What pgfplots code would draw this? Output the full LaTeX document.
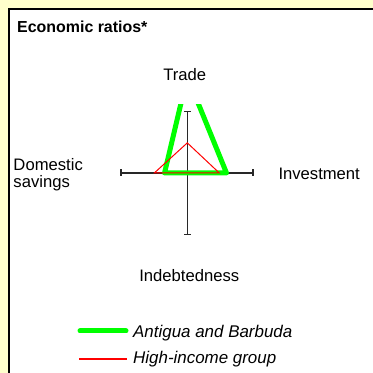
\documentclass[border=0pt]{standalone}
\usepackage{pgfplots}
\pgfplotsset{compat=1.18}
\usepackage{fontspec}
\setmainfont{Liberation Sans}
\definecolor{bgyellow}{RGB}{255,255,204}
\definecolor{axgray}{RGB}{40,40,40}
\definecolor{lime}{RGB}{0,255,0}
\definecolor{pred}{RGB}{255,0,0}
\begin{document}
\begin{tikzpicture}[x=1bp,y=1bp]
\useasboundingbox (0,0) rectangle (373,373);
\fill[bgyellow] (0,0) rectangle (373,373);
\fill[white] (9,0) rectangle (373,364);
\draw[black, line width=2bp] (9,0) -- (9,364) -- (373,364);
\node[anchor=base west, font=\bfseries\fontsize{16}{18}\selectfont, inner sep=0pt] at (17,341) {Economic ratios*};
\node[anchor=base, font=\fontsize{16.7}{19}\selectfont, inner sep=0pt] at (184.7,292.3) {Trade};
\node[anchor=base, font=\fontsize{16.7}{19}\selectfont, inner sep=0pt] at (189.3,92) {Indebtedness};
\node[anchor=base west, font=\fontsize{16.7}{19}\selectfont, inner sep=0pt] at (13.3,203) {Domestic};
\node[anchor=base west, font=\fontsize{16.7}{19}\selectfont, inner sep=0pt] at (13.3,185.5) {savings};
\node[anchor=base west, font=\fontsize{16.7}{19}\selectfont, inner sep=0pt] at (278.3,193.7) {Investment};
% legend
\draw[lime, line width=5bp, line cap=round] (80,42) -- (126,42);
\node[anchor=base west, font=\itshape\fontsize{17}{19}\selectfont, inner sep=0pt] at (133,35.3) {Antigua and Barbuda};
\draw[pred, line width=1.3bp] (79.3,14) -- (126.7,14);
\node[anchor=base west, font=\itshape\fontsize{17}{19}\selectfont, inner sep=0pt] at (133,9.2) {High-income group};
\begin{axis}[
  at={(187.3bp,200bp)}, anchor=origin,
  scale only axis, width=132bp, height=136bp,
  xmin=-1, xmax=1, ymin=-1.106, ymax=1.106,
  hide axis,
]
\addplot[color=axgray, line width=1.5bp, mark=|, mark size=3.5bp, mark options={line width=1.8bp}] coordinates {(-1,0) (1,0)};
\addplot[color=axgray, line width=1.5bp, mark=-, mark size=3.5bp, mark options={line width=1.8bp}] coordinates {(0,-1) (0,1)};
\addplot[color=lime, line width=5bp, line join=round, line cap=round] coordinates {(0,1.57) (0.594,0) (0,0) (-0.345,0) (0,1.57)};
\addplot[color=pred, line width=1bp] coordinates {(0,0) (-0.5,0) (0,0.49) (0.485,0) (0,0)};
\end{axis}
\end{tikzpicture}
\end{document}
